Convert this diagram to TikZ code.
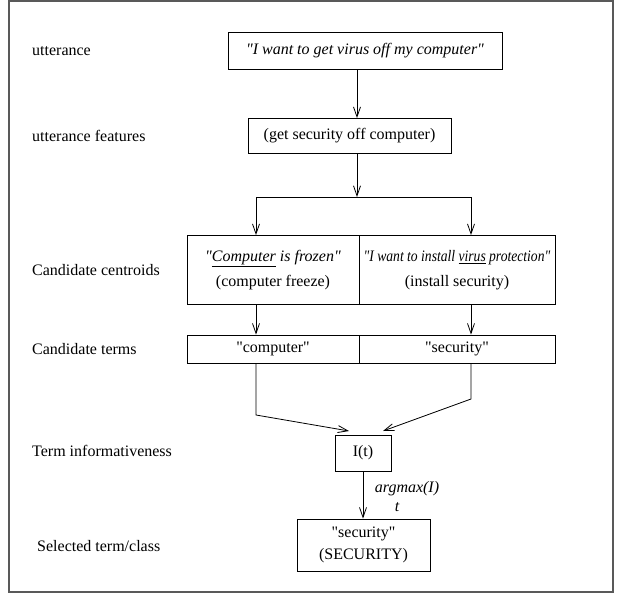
\documentclass[tikz,border=0pt]{standalone}
\usepackage{fontspec}
\setmainfont{Liberation Serif}
\usetikzlibrary{arrows.meta}
\newcommand{\dq}{\XeTeXglyph\XeTeXcharglyph"22\relax}
\begin{document}
\begin{tikzpicture}[x=1pt,y=-1pt,
  every node/.style={font=\fontsize{16}{18.5}\selectfont, inner sep=0pt},
  box/.style={draw, line width=0.8pt, align=center},
  lab/.style={anchor=west},
  conn/.style={line width=0.8pt},
  arr/.style={conn, -{Straight Barb[length=10pt,width=7pt]}}]
\useasboundingbox (0,0) rectangle (623,596);
\draw[line width=1.5pt, black!65] (9,1) rectangle (613,592);

% left labels
\node[lab] (l1) at (32,51) {utterance};
\node[lab] (l2) at (32,136) {utterance features};
\node[lab] (l3) at (32,270) {Candidate centroids};
\node[lab] (l4) at (32,349) {Candidate terms};
\node[lab] (l5) at (32,451) {Term informativeness};
\node[lab] (l6) at (37,546) {Selected term/class};

% boxes
\node[box, minimum width=274pt, minimum height=37pt] (utt) at (365,51) {\itshape \dq I want to get virus off my computer\dq};
\node[box, minimum width=203pt, minimum height=35pt] (feat) at (349.5,136) {(get security off computer)};
\node[box, minimum width=172pt, minimum height=69pt] (c1) at (273,270) {\itshape \dq\underline{Computer} is frozen\dq\\[6pt](computer freeze)};
\node[box, minimum width=196pt, minimum height=69pt] (c2) at (457,270) {\scalebox{0.85}[1]{\itshape \dq I want to install \underline{virus} protection\dq}\\[6pt](install security)};
\node[box, minimum width=172pt, minimum height=28pt] (t1) at (273,349) {\dq computer\dq};
\node[box, minimum width=196pt, minimum height=28pt] (t2) at (457,349) {\dq security\dq};
\node[box, minimum width=56pt, minimum height=36pt] (it) at (363,453) {I(t)};
\node[box, minimum width=133pt, minimum height=52pt] (sel) at (363.5,545) {\dq security\dq\\[3pt](SECURITY)};

\node (am) at (407,489) {\itshape argmax(I)};
\node (amt) at (397,507) {\itshape t};

% connectors
\coordinate (j) at (357,197);
\coordinate (jl) at (256,197);
\coordinate (jr) at (471,197);
\coordinate (bl) at (256,415);
\coordinate (br) at (471,399);
\coordinate (tipl) at (349,431);
\coordinate (tipr) at (383,431);
\draw[arr] (utt.south -| j) -- (feat.north -| j);
\draw[arr] (feat.south -| j) -- (j);
\draw[conn] (jl) -- (jr);
\draw[arr] (jl) -- (c1.north -| jl);
\draw[arr] (jr) -- (c2.north -| jr);
\draw[arr] (c1.south -| jl) -- (t1.north -| jl);
\draw[arr] (c2.south -| jr) -- (t2.north -| jr);
\draw[arr] (t1.south -| bl) -- (bl) -- (tipl);
\draw[arr] (t2.south -| br) -- (br) -- (tipr);
\draw[arr] (it.south) -- (sel.north -| it.south);
\end{tikzpicture}
\end{document}
